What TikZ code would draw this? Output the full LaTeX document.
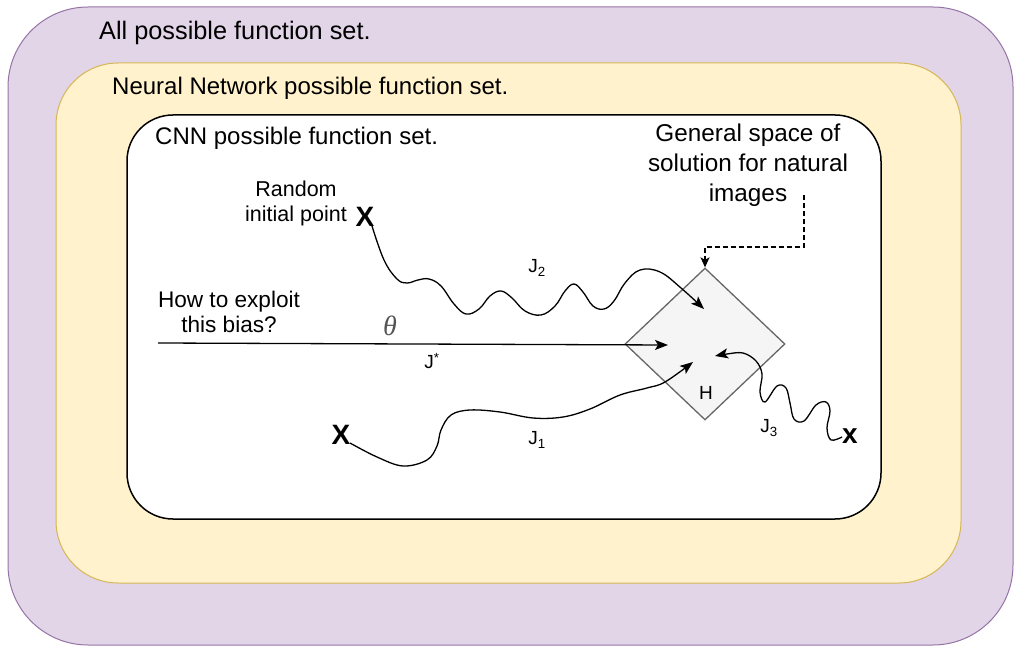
\documentclass[tikz,border=0pt]{standalone}
\usepackage{fontspec}
\setmainfont{Liberation Sans}
\newfontfamily\thetafont{Liberation Serif}
\usetikzlibrary{arrows.meta,shapes.geometric}
\definecolor{purplefill}{HTML}{E1D5E7}
\definecolor{purpledraw}{HTML}{9673A6}
\definecolor{yellowfill}{HTML}{FFF2CC}
\definecolor{yellowdraw}{HTML}{D6B656}
\definecolor{diamfill}{HTML}{F5F5F5}
\definecolor{diamdraw}{HTML}{666666}
\definecolor{thetagray}{HTML}{555555}
\begin{document}
\begin{tikzpicture}[x=1pt,y=-1pt,
  settitle/.style={anchor=west,inner sep=0pt,font=\fontsize{24}{29}\selectfont},
  smalltext/.style={align=center,inner sep=0pt,font=\fontsize{21.5}{25}\selectfont},
  jlabel/.style={inner sep=0pt,font=\fontsize{19}{22}\selectfont},
  xmark/.style={inner sep=0pt,font=\fontsize{28}{30}\selectfont\bfseries},
  conn/.style={line width=1.3pt,-{Stealth[length=13pt,width=10pt,inset=3pt]}},
]
\useasboundingbox (0,0) rectangle (1015,647);
% containers
\node[draw=purpledraw,fill=purplefill,line width=1pt,rounded corners=80pt,
      minimum width=1005pt,minimum height=638pt,inner sep=0pt] (allset) at (510.5,326) {};
\node[draw=yellowdraw,fill=yellowfill,line width=1pt,rounded corners=62pt,
      minimum width=905pt,minimum height=520pt,inner sep=0pt] (nnset) at (508.5,323) {};
\node[draw=black,fill=white,line width=1.5pt,rounded corners=46pt,
      minimum width=754pt,minimum height=404pt,inner sep=0pt] (cnnset) at (504,317) {};
% titles
\node[settitle,font=\fontsize{25.3}{30}\selectfont] (t1) at (99,33) {All possible function set.};
\node[settitle] (t2) at (112,88) {Neural Network possible function set.};
\node[settitle] (t3) at (155,138) {CNN possible function set.};
% solution space
\node[diamond,draw=diamdraw,fill=diamfill,line width=1.3pt,inner sep=0pt,
      minimum width=160pt,minimum height=152pt] (H) at (705,344) {};
\node[jlabel] (Hlab) at (706,393) {H};
\node[align=center,inner sep=0pt,font=\fontsize{24.3}{30}\selectfont] (gs) at (748,165)
  {General space of\\solution for natural\\images};
\coordinate (dstart) at (804,195);
\coordinate (dcorner) at (804,247);
\draw[line width=1.2pt,dash pattern=on 5pt off 3pt,-{Stealth[length=10pt,width=9pt,inset=2.5pt]}]
  (dstart) -- (dcorner) -| (H.north);
% labels
\node[smalltext] (rip) at (296,203) {Random\\initial point};
\node[smalltext,font=\fontsize{22.6}{25}\selectfont] (bias) at (229,312) {How to exploit\\this bias?};
\node[inner sep=0pt,text=thetagray,font=\fontsize{28}{32}\selectfont\thetafont\itshape] (theta) at (390,326) {θ};
% X marks
\node[xmark] (x2) at (365,217) {X};
\node[xmark] (x1) at (341,435) {X};
\node[xmark] (x3) at (850,436) {x};
% end points inside H
\coordinate (tstar) at (668,345);
\coordinate (t2) at (704,309);
\coordinate (t1) at (693,362);
\coordinate (t3) at (715,356);
\coordinate (jstart) at (158,343);
\coordinate (s2) at (372,226);
\coordinate (s1) at (350,443);
\coordinate (s3) at (842,437);
% J*
\draw[conn] (jstart) -- (tstar);
\node[jlabel] (jstar) at (432,361) {J\textsuperscript{*}};
% J2
\draw[conn] plot[smooth,tension=0.65] coordinates {(s2) (384,260) (397,279) (407,283) (418,280)
  (429,279) (441,286) (454,304) (466,314) (479,309) (490,296) (501,291) (512,298) (525,311)
  (541,315) (555,306) (565,291) (574,284) (583,292) (593,306) (604,309) (614,301) (625,283)
  (640,270) (660,272) (681,288) (t2)};
\node[jlabel] (j2) at (537,268) {J\textsubscript{2}};
% J1
\draw[conn] plot[smooth,tension=0.6] coordinates {(s1) (377,457) (403,466) (427,460) (437,446)
  (441,430) (451,415) (470,410) (500,412) (533,418) (563,417) (590,409) (620,395) (647,388)
  (665,382) (t1)};
\node[jlabel] (j1) at (537,440) {J\textsubscript{1}};
% J3
\draw[conn] plot[smooth,tension=0.6] coordinates {(s3) (831,440) (827,428) (830,411) (826,402)
  (816,405) (804,421) (794,419) (790,403) (786,388) (777,386) (765,402) (760,392) (762,374)
  (756,361) (743,353) (727,354) (t3)};
\node[jlabel] (j3) at (769,428) {J\textsubscript{3}};
\end{tikzpicture}
\end{document}
